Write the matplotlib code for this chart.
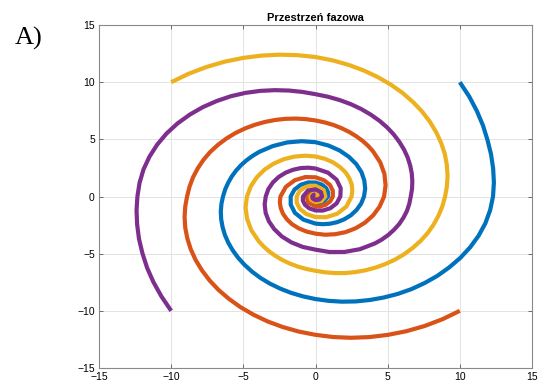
import numpy as np
import matplotlib
matplotlib.use("Agg")
import matplotlib.pyplot as plt

# Phase-space trajectories as (angle in degrees, radius) pairs.
# Plot order: start (10,10), (10,-10), (-10,10), (-10,-10)
blue_pts = [
    (45, 14.14), (39.375, 13.78), (33.75, 13.45), (28.125, 13.16), (22.5, 12.9),
    (16.875, 12.71), (11.25, 12.55), (5.625, 12.42), (0, 12.3),
    (-5.625, 12.16), (-11.25, 12.0), (-16.875, 11.81), (-22.5, 11.6),
    (-28.125, 11.38), (-33.75, 11.15), (-39.375, 10.93), (-45, 10.7),
    (-50.625, 10.48), (-56.25, 10.25), (-61.875, 10.02), (-67.5, 9.8),
    (-73.125, 9.59), (-78.75, 9.38), (-84.375, 9.17), (-90, 8.97),
    (-95.625, 8.78), (-101.25, 8.6), (-106.875, 8.42), (-112.5, 8.25),
    (-118.125, 8.08), (-123.75, 7.91), (-129.375, 7.74), (-135, 7.58),
    (-140.625, 7.42), (-146.25, 7.27), (-151.875, 7.12), (-157.5, 6.97),
    (-163.125, 6.83), (-168.75, 6.69), (-174.375, 6.55), (-180, 6.41),
    (-185.625, 6.29), (-191.25, 6.17), (-196.875, 6.06), (-202.5, 5.95),
    (-208.125, 5.84), (-213.75, 5.73), (-219.375, 5.62), (-225, 5.52),
    (-236.25, 5.31), (-247.5, 5.12), (-258.75, 4.93), (-270, 4.75),
    (-281.25, 4.55), (-292.5, 4.36), (-303.75, 4.17), (-315, 4.0), (-326.25, 3.83),
    (-337.5, 3.66), (-348.75, 3.51), (-360, 3.36),
    (-371.25, 3.22), (-382.5, 3.08), (-393.75, 2.95), (-405, 2.82), (-416.25, 2.70),
    (-427.5, 2.58), (-438.75, 2.47), (-450, 2.37),
    (-472.5, 2.19), (-495, 2.02), (-517.5, 1.86), (-540, 1.72), (-562.5, 1.58),
    (-585, 1.45), (-607.5, 1.33), (-630, 1.22), (-652.5, 1.13), (-675, 1.04),
    (-697.5, 0.95), (-720, 0.87),
    (-765, 0.74), (-810, 0.63), (-855, 0.53), (-900, 0.45), (-945, 0.38),
    (-990, 0.32), (-1035, 0.27), (-1080, 0.23),
]

orange_pts = [
    (-45, 14.14), (-50.625, 13.88), (-56.25, 13.62), (-61.875, 13.36), (-67.5, 13.1),
    (-73.125, 12.85), (-78.75, 12.6), (-84.375, 12.35), (-90, 12.1),
    (-95.625, 11.87), (-101.25, 11.64), (-106.875, 11.42), (-112.5, 11.2),
    (-118.125, 10.99), (-123.75, 10.78), (-129.375, 10.58), (-135, 10.38),
    (-140.625, 10.18), (-146.25, 9.99), (-151.875, 9.8), (-157.5, 9.61),
    (-163.125, 9.43), (-168.75, 9.25), (-174.375, 9.07), (-180, 8.9),
    (-185.625, 8.77), (-191.25, 8.65), (-196.875, 8.52), (-202.5, 8.4),
    (-208.125, 8.27), (-213.75, 8.13), (-219.375, 7.99), (-225, 7.85),
    (-230.625, 7.7), (-236.25, 7.55), (-241.875, 7.4), (-247.5, 7.25),
    (-253.125, 7.1), (-258.75, 6.95), (-264.375, 6.8), (-270, 6.65),
    (-275.625, 6.51), (-281.25, 6.38), (-286.875, 6.24), (-292.5, 6.11),
    (-298.125, 5.98), (-303.75, 5.86), (-309.375, 5.74), (-315, 5.62),
    (-326.25, 5.39), (-337.5, 5.17), (-348.75, 4.95), (-360, 4.75),
    (-371.25, 4.53), (-382.5, 4.32), (-393.75, 4.12), (-405, 3.93), (-416.25, 3.75),
    (-427.5, 3.57), (-438.75, 3.41), (-450, 3.25),
    (-461.25, 3.13), (-472.5, 3.02), (-483.75, 2.92), (-495, 2.81), (-506.25, 2.71),
    (-517.5, 2.61), (-528.75, 2.52), (-540, 2.43),
    (-562.5, 2.22), (-585, 2.02), (-607.5, 1.84), (-630, 1.68), (-652.5, 1.54),
    (-675, 1.42), (-697.5, 1.3), (-720, 1.2), (-742.5, 1.1), (-765, 1.01),
    (-787.5, 0.93), (-810, 0.86),
    (-855, 0.73), (-900, 0.62), (-945, 0.53), (-990, 0.45), (-1035, 0.38),
    (-1080, 0.32), (-1125, 0.27), (-1170, 0.23), (-1215, 0.2),
]

yellow_pts = [
    (135, 14.14), (129.375, 13.88), (123.75, 13.62), (118.125, 13.37), (112.5, 13.12),
    (106.875, 12.88), (101.25, 12.65), (95.625, 12.42), (90, 12.2),
    (84.375, 11.97), (78.75, 11.74), (73.125, 11.52), (67.5, 11.3),
    (61.875, 11.09), (56.25, 10.88), (50.625, 10.67), (45, 10.47),
    (39.375, 10.27), (33.75, 10.07), (28.125, 9.88), (22.5, 9.7),
    (16.875, 9.51), (11.25, 9.33), (5.625, 9.15), (0, 8.98),
    (-5.625, 8.83), (-11.25, 8.68), (-16.875, 8.54), (-22.5, 8.4),
    (-28.125, 8.25), (-33.75, 8.1), (-39.375, 7.95), (-45, 7.8),
    (-50.625, 7.64), (-56.25, 7.48), (-61.875, 7.32), (-67.5, 7.16),
    (-73.125, 7.0), (-78.75, 6.83), (-84.375, 6.66), (-90, 6.5),
    (-95.625, 6.37), (-101.25, 6.25), (-106.875, 6.13), (-112.5, 6.01),
    (-118.125, 5.89), (-123.75, 5.78), (-129.375, 5.66), (-135, 5.55),
    (-146.25, 5.34), (-157.5, 5.13), (-168.75, 4.94), (-180, 4.75),
    (-191.25, 4.57), (-202.5, 4.4), (-213.75, 4.24), (-225, 4.08), (-236.25, 3.93),
    (-247.5, 3.78), (-258.75, 3.64), (-270, 3.5),
    (-281.25, 3.36), (-292.5, 3.22), (-303.75, 3.08), (-315, 2.96), (-326.25, 2.83),
    (-337.5, 2.72), (-348.75, 2.6), (-360, 2.5),
    (-382.5, 2.31), (-405, 2.13), (-427.5, 1.96), (-450, 1.8), (-472.5, 1.66),
    (-495, 1.53), (-517.5, 1.41), (-540, 1.3), (-562.5, 1.2), (-585, 1.1),
    (-607.5, 1.02), (-630, 0.94),
    (-675, 0.8), (-720, 0.68), (-765, 0.58), (-810, 0.49), (-855, 0.42),
    (-900, 0.36), (-945, 0.3), (-990, 0.26), (-1035, 0.22), (-1080, 0.19),
]

purple_pts = [
    (225, 14.14), (219.375, 13.8), (213.75, 13.5), (208.125, 13.23), (202.5, 12.98),
    (196.875, 12.78), (191.25, 12.6), (185.625, 12.46), (180, 12.34),
    (174.375, 12.25), (168.75, 12.15), (163.125, 12.02), (157.5, 11.87),
    (151.875, 11.7), (146.25, 11.5), (140.625, 11.28), (135, 11.05),
    (129.375, 10.8), (123.75, 10.55), (118.125, 10.28), (112.5, 10.0),
    (106.875, 9.72), (101.25, 9.45), (95.625, 9.19), (90, 8.95),
    (84.375, 8.77), (78.75, 8.6), (73.125, 8.44), (67.5, 8.28),
    (61.875, 8.12), (56.25, 7.97), (50.625, 7.82), (45, 7.67),
    (39.375, 7.52), (33.75, 7.38), (28.125, 7.24), (22.5, 7.1),
    (16.875, 6.97), (11.25, 6.84), (5.625, 6.72), (0, 6.6),
    (-5.625, 6.53), (-11.25, 6.46), (-16.875, 6.37), (-22.5, 6.28),
    (-28.125, 6.17), (-33.75, 6.06), (-39.375, 5.94), (-45, 5.81),
    (-56.25, 5.54), (-67.5, 5.25), (-78.75, 4.95), (-90, 4.65),
    (-101.25, 4.5), (-112.5, 4.35), (-123.75, 4.2), (-135, 4.04), (-146.25, 3.89),
    (-157.5, 3.74), (-168.75, 3.59), (-180, 3.45),
    (-191.25, 3.33), (-202.5, 3.2), (-213.75, 3.07), (-225, 2.94), (-236.25, 2.81),
    (-247.5, 2.69), (-258.75, 2.57), (-270, 2.45),
    (-292.5, 2.26), (-315, 2.07), (-337.5, 1.89), (-360, 1.72), (-382.5, 1.58),
    (-405, 1.45), (-427.5, 1.33), (-450, 1.22), (-472.5, 1.12), (-495, 1.03),
    (-517.5, 0.95), (-540, 0.87),
    (-585, 0.74), (-630, 0.63), (-675, 0.53), (-720, 0.45), (-765, 0.38),
    (-810, 0.32), (-855, 0.27), (-900, 0.23), (-945, 0.2), (-990, 0.17),
]

series = [
    (blue_pts, '#0072BD'),
    (orange_pts, '#D95319'),
    (yellow_pts, '#EDB120'),
    (purple_pts, '#7E2F8E'),
]

ticks = [-15, -10, -5, 0, 5, 10, 15]

plt.rcParams['font.family'] = ['Liberation Sans', 'DejaVu Sans']

fig = plt.figure(figsize=(5.39, 3.89), dpi=100)
ax = fig.add_axes([0.1837, 0.054, 0.8033, 0.8817])

for pts, color in series:
    p = np.array(pts)
    a = np.radians(p[:, 0])
    r = p[:, 1]
    ax.plot(r * np.cos(a), r * np.sin(a), color=color, linewidth=3.0,
            solid_joinstyle='round', solid_capstyle='butt')

ax.set_xlim(-15, 15)
ax.set_ylim(-15, 15)
ax.set_xticks(ticks)
ax.set_yticks(ticks)
ax.grid(True, color='#e3e3e3', linewidth=0.7)
ax.set_axisbelow(True)
ax.tick_params(direction='in', length=3, width=0.6, color='#555555',
               labelsize=7.5, top=True, right=True, pad=3)
for s in ax.spines.values():
    s.set_color('#8a8a8a')
    s.set_linewidth(0.8)

ax.set_title('Przestrzeń fazowa', fontsize=8, fontweight='bold', pad=3)

fig.text(0.028, 0.885, 'A)', fontsize=19, family='Liberation Serif')

fig.savefig('out.png', dpi=100)
